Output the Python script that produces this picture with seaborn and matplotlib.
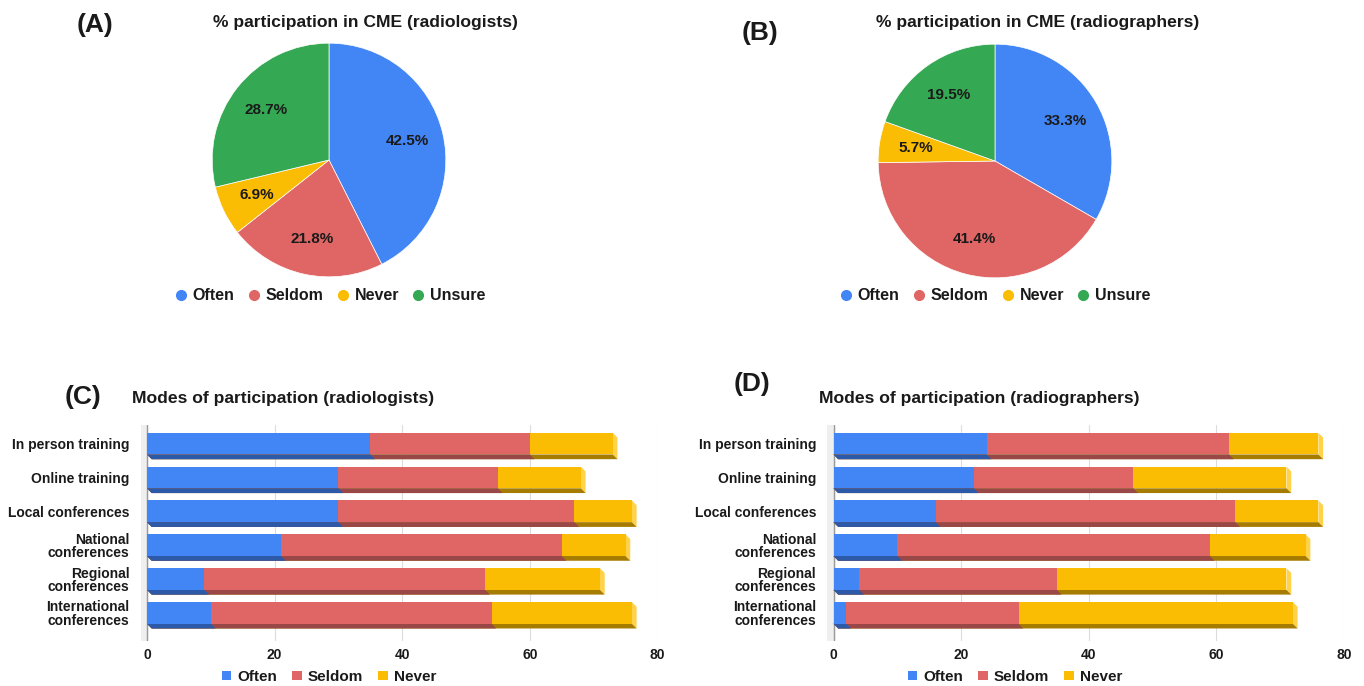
import matplotlib
matplotlib.use("Agg")
import pandas as pd
import matplotlib.pyplot as plt
import seaborn as sns
from matplotlib.patches import Polygon, Patch
from matplotlib.lines import Line2D

# pie data (percent of respondents)
levels = ["Often", "Seldom", "Never", "Unsure"]
pie_radiologists = [42.5, 21.8, 6.9, 28.7]
pie_radiographers = [33.3, 41.4, 5.7, 19.5]

# modes of participation
modes = ["In person training", "Online training", "Local conferences",
         "National\nconferences", "Regional\nconferences", "International\nconferences"]
rad_often = [35, 30, 30, 21, 9, 10]
rad_seldom = [25, 25, 37, 44, 44, 44]
rad_never = [13, 13, 9, 10, 18, 22]
rg_often = [24, 22, 16, 10, 4, 2]
rg_seldom = [38, 25, 47, 49, 31, 27]
rg_never = [14, 24, 13, 15, 36, 43]

colors = {"Often": "#4285F4", "Seldom": "#E06666", "Never": "#FBBC04", "Unsure": "#34A853"}
dark = {"Often": "#2C59A8", "Seldom": "#9A4747", "Never": "#A67C00"}
side_col = "#FFD24A"

sns.set_theme(style="whitegrid")
plt.rcParams["font.family"] = ["Liberation Sans", "DejaVu Sans"]
plt.rcParams["font.weight"] = "bold"
plt.rcParams["text.color"] = "#1a1a1a"

W, H = 1364, 686
fig = plt.figure(figsize=(W / 100, H / 100), dpi=100)
fig.patch.set_facecolor("white")


def px_axes(left, top, width, height):
    return fig.add_axes([left / W, 1 - (top + height) / H, width / W, height / H])


def ftext(x, y, s, **kw):
    fig.text(x / W, 1 - y / H, s, **kw)


def draw_pie(values, left, top, size, title, tx, ty, lab, lx, ly, legx):
    ax = px_axes(left, top, size, size)
    ax.pie(values, colors=[colors[l] for l in levels], startangle=90, counterclock=False,
           autopct="%.1f%%", pctdistance=0.69,
           wedgeprops=dict(linewidth=0.5, edgecolor="white"),
           textprops=dict(fontsize=11, fontweight="bold", color="#1a1a1a"))
    ax.set_aspect("equal")
    ax.set_xlim(-1.01, 1.01)
    ax.set_ylim(-1.01, 1.01)
    ftext(tx, ty, title, ha="center", va="center", fontsize=12.6, fontweight="bold")
    ftext(lx, ly, lab, ha="center", va="center", fontsize=19, fontweight="bold")
    handles = [Line2D([], [], marker="o", linestyle="", markersize=7,
                      markerfacecolor=colors[l], markeredgecolor=colors[l]) for l in levels]
    fig.legend(handles, levels, loc="center", bbox_to_anchor=(legx / W, 1 - 296 / H),
               ncol=4, frameon=False, handlelength=0.8, handletextpad=0.35,
               columnspacing=0.8, prop=dict(size=11.5, weight="bold"))


def draw_bars(often, seldom, never, x0, title, tx, lab, lx, ly, legx):
    # x0 = pixel position of value 0
    ppu = 6.38
    ax = px_axes(x0 - ppu, 425, 81 * ppu, 216)
    df = pd.DataFrame({"mode": modes, "Often": often, "Seldom": seldom, "Never": never})
    df["cum_seldom"] = df["Often"] + df["Seldom"]
    df["cum_never"] = df["cum_seldom"] + df["Never"]
    order = [("cum_never", "Never"), ("cum_seldom", "Seldom"), ("Often", "Often")]
    for col, key in order:
        sns.barplot(data=df, y="mode", x=col, color=colors[key], width=0.64, ax=ax,
                    orient="h", saturation=1, linewidth=0, errorbar=None, zorder=3)
    # pseudo-3D depth: bottom strip + right side face
    dx, dy = 0.74, 0.14
    n = len(modes)
    for i, p in enumerate(list(ax.patches)):
        key = order[i // n][1]
        xa, ya = p.get_x(), p.get_y()
        xb, yb = xa + p.get_width(), ya + p.get_height()
        if key == "Never":
            ax.add_patch(Polygon([(xb, ya), (xb + dx, ya + dy), (xb + dx, yb + dy), (xb, yb)],
                                 closed=True, facecolor=side_col, edgecolor="none", zorder=2.5))
        ax.add_patch(Polygon([(xa, yb), (xb, yb), (xb + dx, yb + dy), (xa + dx, yb + dy)],
                             closed=True, facecolor=dark[key], edgecolor="none", zorder=2.6))
    ax.axvspan(-1, 0, color="#EFEFEF", zorder=0)
    ax.axvline(0, color="#9A9A9A", lw=1, zorder=1)
    ax.set_xlim(-1, 80)
    ax.set_ylim(5.83, -0.55)
    ax.set_xticks([0, 20, 40, 60, 80])
    ax.set_xlabel("")
    ax.set_ylabel("")
    ax.set_facecolor("white")
    ax.grid(axis="x", color="#DCDCDC", lw=0.8, zorder=0)
    ax.grid(axis="y", visible=False)
    for s in ax.spines.values():
        s.set_visible(False)
    ax.tick_params(axis="y", length=0, pad=8, labelsize=10, labelcolor="#1a1a1a")
    ax.tick_params(axis="x", length=0, pad=5, labelsize=10, labelcolor="#1a1a1a")
    for t in ax.get_yticklabels():
        t.set_fontweight("bold")
        t.set_linespacing(0.92)
        t.set_multialignment("right")
    for t in ax.get_xticklabels():
        t.set_fontweight("bold")
    ftext(tx, 399, title, ha="left", va="center", fontsize=12.6, fontweight="bold")
    ftext(lx, ly, lab, ha="center", va="center", fontsize=19, fontweight="bold")
    handles = [Patch(facecolor=colors[k], edgecolor="none") for k in ["Often", "Seldom", "Never"]]
    fig.legend(handles, ["Often", "Seldom", "Never"], loc="center",
               bbox_to_anchor=(legx / W, 1 - 677 / H), ncol=3, frameon=False,
               handlelength=0.6, handleheight=0.6, handletextpad=0.4, columnspacing=1.0,
               prop=dict(size=11, weight="bold"))


draw_pie(pie_radiologists, 211, 42, 236, "% participation in CME (radiologists)",
         365, 22, "(A)", 95, 25, 330)
draw_pie(pie_radiographers, 877, 43, 236, "% participation in CME (radiographers)",
         1038, 22, "(B)", 760, 33, 995)
draw_bars(rad_often, rad_seldom, rad_never, 147, "Modes of participation (radiologists)",
          132, "(C)", 83, 397, 329)
draw_bars(rg_often, rg_seldom, rg_never, 833.5, "Modes of participation (radiographers)",
          819, "(D)", 752, 384, 1015)

fig.savefig("out.png", dpi=100, facecolor="white")
